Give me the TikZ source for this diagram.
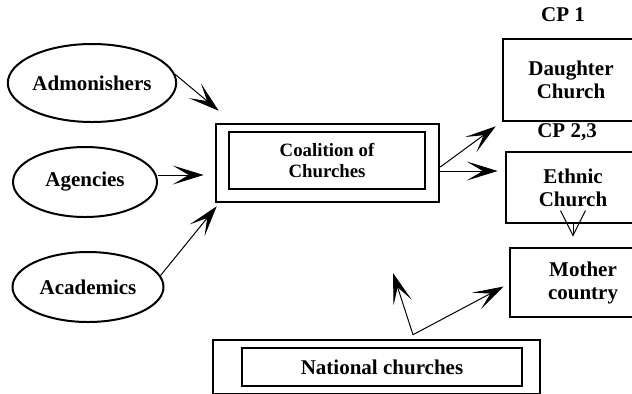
\documentclass[tikz,border=0pt]{standalone}
\usepackage{fontspec}
\setmainfont{Liberation Serif}
\usetikzlibrary{arrows.meta,shapes.geometric}

\begin{document}
\begin{tikzpicture}[x=.5pt,y=-.5pt,line width=.5pt,font=\fontsize{10.5}{11.5}\selectfont\bfseries,
  oval/.style={draw,ellipse,line width=1pt,inner sep=0pt},
  box/.style={draw,rectangle,line width=1.3pt,inner sep=0pt,align=center},
  arr/.style={-{Stealth[length=15.5pt,width=9.5pt,inset=8pt]}},
  barb/.style={-{Straight Barb[length=12.5pt,width=12.5pt]}}]
\useasboundingbox (0,0) rectangle (632,393);
\clip (0,0) rectangle (632,393);
\node[oval,minimum width=75pt,minimum height=39pt] (adm) at (92,83) {Admonishers};
\node[oval,minimum width=72pt,minimum height=35pt] (agc) at (85,182) {Agencies};
\node[oval,minimum width=75.5pt,minimum height=35pt] (aca) at (88,287) {Academics};
\node[box,minimum width=111.5pt,minimum height=39pt] (coalout) at (327.5,163) {};
\node[box,minimum width=98pt,minimum height=28.5pt,font=\fontsize{9.4}{10.5}\selectfont\bfseries] (coal) at (327,160.5) {Coalition of\\Churches};
\node (cp1) at (563,15) {CP 1};
\node[box,minimum width=68pt,minimum height=41pt] (dau) at (571,80) {Daughter\\Church};
\node (cp23) at (567,132) {CP 2,3};
\node[box,minimum width=67pt,minimum height=35.5pt] (eth) at (573,187.5) {Ethnic\\Church};
\node[box,minimum width=73pt,minimum height=34.5pt] (mot) at (583,282.5) {Mother\\country};
\node[box,minimum width=163.5pt,minimum height=27pt] (natout) at (376.5,367) {};
\node[box,minimum width=140pt,minimum height=19pt] (nat) at (382,367) {National churches};
\coordinate (fork) at ([shift={(36.5,-4)}]natout.north);
\coordinate (free) at (393,273);
\draw[arr] (adm.6) -- ([shift={(4,-12)}]coalout.north west);
\draw[arr,shorten >=5.5pt] (agc.east |- 0,175) -- (coalout.west |- 0,175);
\draw[arr] (aca.9) -- ([shift={(2,3)}]coalout.south west);
\draw[arr] ([shift={(0,4)}]coalout.east) -- ([shift={(-6,4)}]dau.south west);
\draw[arr,shorten >=3.5pt] ([shift={(0,8)}]coalout.east) -- ([shift={(0,8)}]coalout.east -| eth.west);
\draw[barb] (eth.south) -- ([shift={(0,-10)}]eth.south |- mot.north);
\draw[arr] (fork) -- ([shift={(-5,4)}]mot.west);
\draw[arr] (fork) -- (free);
\end{tikzpicture}
\end{document}
